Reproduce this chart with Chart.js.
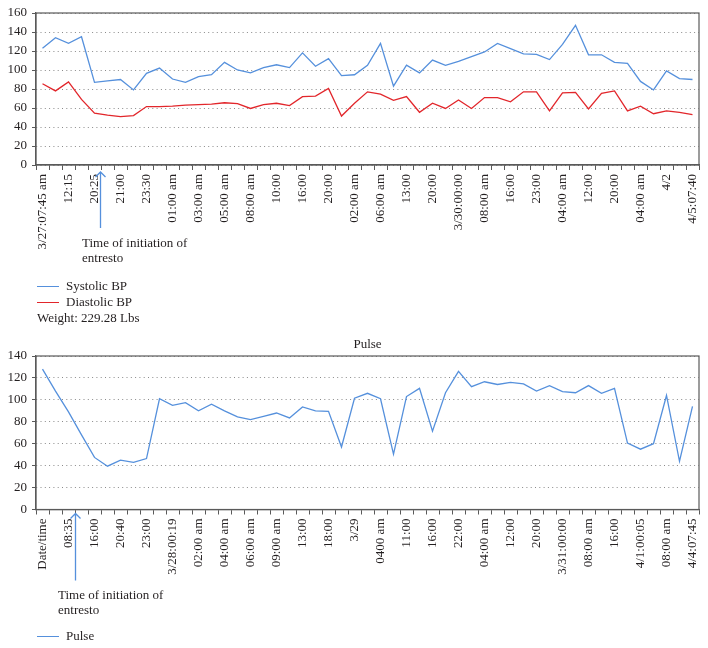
<!DOCTYPE html>
<html lang="en">
<head>
    <meta charset="UTF-8">
    <title>BP and pulse</title>
    <script src="https://cdn.jsdelivr.net/npm/chart.js"></script>
    <style>
        body { margin: 0; background: #fff; }
        #wrap { position: relative; width: 708px; height: 648px; font-family: "Liberation Serif", "DejaVu Serif", serif; color: #231f20; font-size: 13px; }
        #wrap canvas { position: absolute; left: 0; }
        .txt { position: absolute; line-height: 15px; white-space: nowrap; }
        .swatch { position: absolute; width: 22px; height: 0; border-top: 1.3px solid; }
    </style>
</head>
<body>
<div id="wrap">
    <canvas id="bpChart" width="708" height="330" style="top:0"></canvas>
    <canvas id="pulseChart" width="708" height="318" style="top:330px"></canvas>

    <!-- notes + legend for BP chart -->
    <div class="txt" style="left:82px; top:235px;">Time of initiation of<br>entresto</div>
    <div class="swatch" style="left:37px; top:286px; border-color:#5590dc;"></div>
    <div class="txt" style="left:66px; top:278px;">Systolic BP</div>
    <div class="swatch" style="left:37px; top:302px; border-color:#e2262b;"></div>
    <div class="txt" style="left:66px; top:294px;">Diastolic BP</div>
    <div class="txt" style="left:37px; top:310px;">Weight: 229.28 Lbs</div>

    <!-- notes + legend for pulse chart -->
    <div class="txt" style="left:58px; top:587px;">Time of initiation of<br>entresto</div>
    <div class="swatch" style="left:37px; top:636px; border-color:#5590dc;"></div>
    <div class="txt" style="left:66px; top:628px;">Pulse</div>
</div>

<script>
    // BP readings (51 readings, every second one labelled)
    const bpTickLabels = ['3/27:07:45 am', '12:15', '20:25', '21:00', '23:30', '01:00 am', '03:00 am', '05:00 am',
        '08:00 am', '10:00', '16:00', '20:00', '02:00 am', '06:00 am', '13:00', '20:00', '3/30:00:00', '08:00 am',
        '16:00', '23:00', '04:00 am', '12:00', '20:00', '04:00 am', '4/2', '4/5:07:40'];
    const systolic = [123, 134, 128, 135, 87, 88.5, 90, 79, 96.5, 102, 90.5, 87, 93, 95, 108, 100, 97, 102.5, 105.5,
        102.5, 118, 104, 112, 94, 95, 105, 128, 83, 105, 97, 110.5, 105, 109, 114, 119, 128, 122.5, 117, 116.5, 111,
        127, 147, 116, 116, 108, 107, 88, 79, 99, 91, 90];
    const diastolic = [85.5, 78, 87.5, 69, 54.5, 52.5, 51, 52, 61.5, 61.5, 62, 63, 63.5, 64, 65.5, 64.5, 59.5, 63.5,
        65, 62.5, 72, 72.5, 80.5, 51.5, 65, 77, 74.5, 68, 72, 55.5, 65, 59.5, 68.5, 59.5, 71, 71, 66.5, 77, 77, 57,
        76, 76.5, 59, 75.5, 78, 57, 62, 54, 57, 55.5, 53];

    // pulse readings
    const pulseTickLabels = ['Date/time', '08:35', '16:00', '20:40', '23:00', '3/28:00:19', '02:00 am', '04:00 am',
        '06:00 am', '09:00 am', '13:00', '18:00', '3/29', '0400 am', '11:00', '16:00', '22:00', '04:00 am', '12:00',
        '20:00', '3/31:00:00', '08:00 am', '16:00', '4/1:00:05', '08:00 am', '4/4:07:45'];
    const pulse = [128, 108, 89, 68, 47.5, 39.5, 45, 43, 46.5, 101, 95, 97.5, 90, 96, 90, 84.5, 82, 85, 88, 83.5,
        93.5, 90, 89.5, 57, 101.5, 106, 101, 50.5, 103, 110.5, 71.5, 106.5, 126, 112, 116.5, 114, 116, 114.5, 108,
        113, 107.5, 106.5, 113, 106, 110.5, 60.5, 55, 60, 104, 44, 94];

    // where entresto was started (position on the category axis)
    const bpStartIndex = 4.45;
    const pulseStartIndex = 2.52;

    const FONT = '"Liberation Serif", "DejaVu Serif", serif';
    const TEXT = '#231f20';
    const AXIS = '#5a5a5a';
    const BLUE = '#5590dc';
    const RED = '#e2262b';

    // labels only on every other reading
    function spread(labels, n) {
        return Array.from({length: n}, (_, i) => (i % 2 === 0 ? (labels[i / 2] || '') : ''));
    }

    // frame around the plot + the arrow for the start of entresto
    const framePlugin = {
        id: 'frameAndArrow',
        afterDraw(chart, args, opts) {
            const {ctx, chartArea: a, scales} = chart;
            ctx.save();
            ctx.strokeStyle = AXIS;
            ctx.lineWidth = 1.2;
            ctx.strokeRect(a.left, a.top, a.right - a.left, a.bottom - a.top);

            const x = Math.round(scales.x.getPixelForValue(opts.at)) + 0.5;
            const y1 = a.bottom + opts.from;
            const y2 = a.bottom + opts.to;
            ctx.strokeStyle = BLUE;
            ctx.lineWidth = 1.3;
            ctx.beginPath();
            ctx.moveTo(x, y2);
            ctx.lineTo(x, y1);
            ctx.moveTo(x - 5, y1 + 5);
            ctx.lineTo(x, y1);
            ctx.lineTo(x + 5, y1 + 5);
            ctx.stroke();
            ctx.restore();
        }
    };

    function makeOptions(max, xAxisHeight, padBottom, padTop, arrow, title) {
        return {
            responsive: false,
            animation: false,
            layout: {padding: {top: padTop, right: 9, bottom: padBottom, left: 0}},
            plugins: {
                legend: {display: false},
                tooltip: {enabled: false},
                title: title ? {
                    display: true, text: title, fullSize: false, color: TEXT,
                    font: {family: FONT, size: 13, weight: 'normal'},
                    padding: {top: 7, bottom: 3.4}
                } : {display: false},
                frameAndArrow: arrow
            },
            scales: {
                x: {
                    offset: true,
                    grid: {offset: true, drawOnChartArea: false, drawTicks: true, tickLength: 5, tickColor: AXIS, tickBorderDash: []},
                    border: {color: AXIS, width: 1.2},
                    ticks: {autoSkip: false, maxRotation: 90, minRotation: 90, padding: 4, color: TEXT, font: {family: FONT, size: 13}},
                    afterFit: s => { s.height = xAxisHeight; s.paddingLeft = 0; s.paddingRight = 0; }
                },
                y: {
                    min: 0, max: max,
                    ticks: {stepSize: 20, padding: 5, color: TEXT, font: {family: FONT, size: 13}},
                    grid: {color: '#8a8a8a', tickLength: 4, tickColor: AXIS, tickBorderDash: []},
                    border: {color: AXIS, width: 1.2, dash: [1, 3.3]},
                    afterFit: s => { s.width = 36; }
                }
            }
        };
    }

    new Chart(document.getElementById('bpChart'), {
        type: 'line',
        data: {
            labels: spread(bpTickLabels, systolic.length),
            datasets: [
                {label: 'Systolic BP', data: systolic, borderColor: BLUE, borderWidth: 1.3, pointRadius: 0, tension: 0},
                {label: 'Diastolic BP', data: diastolic, borderColor: RED, borderWidth: 1.3, pointRadius: 0, tension: 0}
            ]
        },
        options: makeOptions(160, 100, 65, 13, {at: bpStartIndex, from: 7, to: 63}),
        plugins: [framePlugin]
    });

    new Chart(document.getElementById('pulseChart'), {
        type: 'line',
        data: {
            labels: spread(pulseTickLabels, pulse.length),
            datasets: [
                {label: 'Pulse', data: pulse, borderColor: BLUE, borderWidth: 1.3, pointRadius: 0, tension: 0}
            ]
        },
        options: makeOptions(140, 100, 38.5, 0, {at: pulseStartIndex, from: 4, to: 71}, 'Pulse'),
        plugins: [framePlugin]
    });
</script>
</body>
</html>
